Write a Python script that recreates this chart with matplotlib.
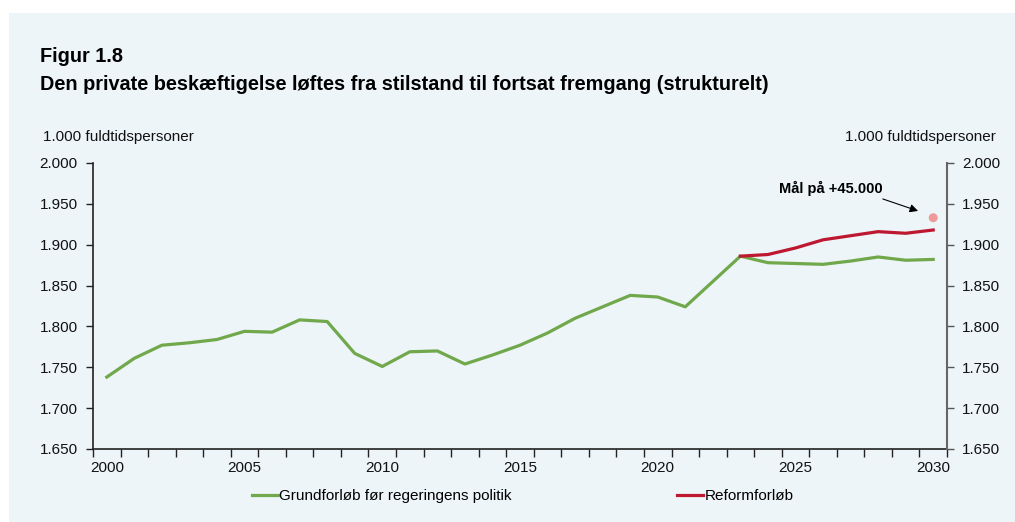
import matplotlib
matplotlib.use("Agg")
import matplotlib.pyplot as plt
import numpy as np
from matplotlib.patches import Rectangle

plt.rcParams['font.family'] = ['Liberation Sans', 'DejaVu Sans']

years = list(range(2000, 2031))
grund = [1738, 1761, 1777, 1780, 1784, 1794, 1793, 1808, 1806, 1767,
         1751, 1769, 1770, 1754, 1765, 1777, 1792, 1810, 1824, 1838,
         1836, 1824, 1855, 1886, 1878, 1877, 1876, 1880, 1885, 1881, 1882]
reform_years = list(range(2023, 2031))
reform = [1886, 1888, 1896, 1906, 1911, 1916, 1914, 1918]
goal_year = 2030
goal_value = 1933

ytick_vals = [1650, 1700, 1750, 1800, 1850, 1900, 1950, 2000]
ytick_labels = ['1.650', '1.700', '1.750', '1.800', '1.850', '1.900', '1.950', '2.000']
xlabel_years = [2000, 2005, 2010, 2015, 2020, 2025, 2030]

green = '#70A84B'
red = '#BE1730'
bg = '#EDF5F9'

W, H = 1015, 522
fig = plt.figure(figsize=(W / 100, H / 100), dpi=100)
fig.patch.set_facecolor('white')
fig.patches.append(Rectangle((9 / W, 0), 1 - 9 / W, 1 - 13 / H, transform=fig.transFigure,
                             facecolor=bg, edgecolor='none', zorder=-10))

ax = fig.add_axes([93 / W, 1 - 449 / H, (947 - 93) / W, (449 - 163) / H])
ax.set_facecolor('none')

def pos(y):
    return years.index(y)

ax.plot([pos(y) for y in years], grund, color=green, lw=2.3, solid_joinstyle='round', zorder=3)
ax.plot([pos(y) for y in reform_years], reform, color=red, lw=2.3, solid_joinstyle='round', zorder=4)
ax.scatter([pos(goal_year)], [goal_value], s=42, color='#EE9A9A', edgecolor='none', zorder=5)

ax.set_xlim(-0.5, len(years) - 0.5)
ax.set_ylim(1650, 2000)

ax.set_xticks(np.arange(-0.5, len(years), 1.0))
ax.set_xticklabels([])
ax.tick_params(axis='x', which='major', direction='out', length=6, width=1, color='#222222')
ax.set_xticks([pos(y) for y in xlabel_years], minor=True)
ax.set_xticklabels([str(y) for y in xlabel_years], minor=True)
ax.tick_params(axis='x', which='minor', length=0, pad=9, labelsize=11, labelcolor='#111111')

ax.set_yticks(ytick_vals)
ax.set_yticklabels(ytick_labels)
ax.tick_params(axis='y', direction='out', length=5, width=1, labelsize=11, pad=6,
               color='#222222', labelcolor='#111111')

for s in ['top', 'right']:
    ax.spines[s].set_visible(False)
ax.spines['left'].set_color('#222222')
ax.spines['bottom'].set_color('#222222')
ax.spines['left'].set_linewidth(1.2)
ax.spines['bottom'].set_linewidth(1.2)

ax2 = ax.twinx()
ax2.set_ylim(1650, 2000)
ax2.set_yticks(ytick_vals)
ax2.set_yticklabels(ytick_labels)
ax2.tick_params(axis='y', direction='out', length=5, width=1, labelsize=11, pad=6,
                color='#555555', labelcolor='#111111')
for s in ['top', 'left', 'bottom']:
    ax2.spines[s].set_visible(False)
ax2.spines['right'].set_color('#666666')
ax2.spines['right'].set_linewidth(1.5)

ax.text(pos(2026) + 0.3, 1969, 'Mål på +45.000', ha='center', va='center',
        fontsize=10.5, fontweight='bold')
ax.annotate('', xy=(29.45, 1941.3), xytext=(28.17, 1956), textcoords='data',
            arrowprops=dict(arrowstyle='-|>', color='black', lw=0.8, mutation_scale=12,
                            shrinkA=0, shrinkB=0))

fig.text(40 / W, 1 - 56 / H, 'Figur 1.8', fontsize=14.3, fontweight='bold', va='center', ha='left')
fig.text(40 / W, 1 - 84 / H, 'Den private beskæftigelse løftes fra stilstand til fortsat fremgang (strukturelt)',
         fontsize=14.3, fontweight='bold', va='center', ha='left')
fig.text(43 / W, 1 - 137 / H, '1.000 fuldtidspersoner', fontsize=11, va='center', ha='left', color='#111111')
fig.text(996 / W, 1 - 137 / H, '1.000 fuldtidspersoner', fontsize=11, va='center', ha='right', color='#111111')

leg = ax.legend(handles=[plt.Line2D([], [], color=green, lw=2.3), plt.Line2D([], [], color=red, lw=2.3)],
                labels=['Grundforløb før regeringens politik', 'Reformforløb'],
                loc='center', bbox_to_anchor=(0.503, -0.165), ncol=2, frameon=False, fontsize=11,
                handlelength=1.7, handletextpad=0.1, columnspacing=10.8)

fig.savefig('out.png', dpi=100, facecolor=fig.get_facecolor())
